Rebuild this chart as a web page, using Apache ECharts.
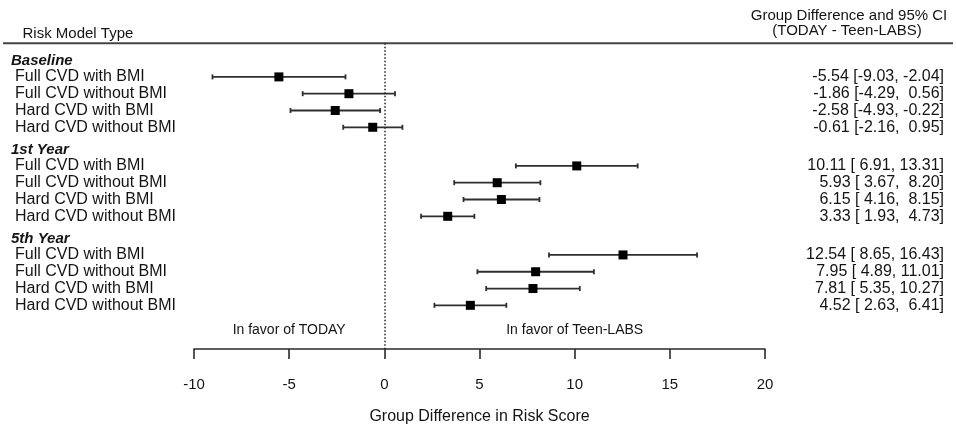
<!DOCTYPE html>
<html>
<head>
<meta charset="utf-8">
<script src="https://cdn.jsdelivr.net/npm/echarts@6/dist/echarts.min.js"></script>
<style>
html,body{margin:0;padding:0;background:#fff;}
#chart{width:956px;height:430px;}
</style>
</head>
<body>
<div id="chart"></div>
<script>
// ---- data ----
const groups = ['Baseline', '1st Year', '5th Year'];
const models = ['Full CVD with BMI', 'Full CVD without BMI', 'Hard CVD with BMI', 'Hard CVD without BMI'];
const estimates = [
  [-5.54, -1.86, -2.58, -0.61],
  [10.11, 5.93, 6.15, 3.33],
  [12.54, 7.95, 7.81, 4.52]
];
const lowerCI = [
  [-9.03, -4.29, -4.93, -2.16],
  [6.91, 3.67, 4.16, 1.93],
  [8.65, 4.89, 5.35, 2.63]
];
const upperCI = [
  [-2.04, 0.56, -0.22, 0.95],
  [13.31, 8.20, 8.15, 4.73],
  [16.43, 11.01, 10.27, 6.41]
];
const xTicks = [-10, -5, 0, 5, 10, 15, 20];
const favorLabels = ['In favor of TODAY', 'In favor of Teen-LABS'];

// ---- layout helpers ----
const FONT = "'Liberation Sans', Arial, Helvetica, sans-serif";
const TXT = '#141414';
const GROUP_STEP = 5.3;
const favorAnchors = [-5, 10];
const favorRow = 16.1;

function pad(v, w) { let s = v.toFixed(2); while (s.length < w) s = ' ' + s; return s; }

const whiskerData = [], pointData = [], rowData = [], headerData = [];
groups.forEach((g, gi) => {
  headerData.push([0, gi * GROUP_STEP + 0.05, gi]);
  models.forEach((m, mi) => {
    const y = gi * GROUP_STEP + 1 + mi;
    whiskerData.push([lowerCI[gi][mi], upperCI[gi][mi], y]);
    pointData.push([estimates[gi][mi], y]);
    rowData.push([0, y, gi, mi]);
  });
});
const favorData = favorLabels.map((t, i) => [favorAnchors[i], favorRow, i]);

const chart = echarts.init(document.getElementById('chart'), null, {renderer: 'canvas'});
chart.setOption({
  animation: false,
  backgroundColor: '#fff',
  grid: { left: 194, right: 191, top: 43.3, height: 309.4 },
  xAxis: {
    type: 'value', min: -10, max: 20, interval: 5,
    axisLine: { show: true, onZero: false, lineStyle: { color: '#2a2a2a', width: 1.6 } },
    axisTick: { show: true, length: 10, inside: false, lineStyle: { color: '#2a2a2a', width: 1.6 } },
    axisLabel: { fontSize: 15, color: TXT, fontFamily: FONT, margin: 28,
      customValues: xTicks },
    splitLine: { show: false },
    name: 'Group Difference in Risk Score', nameLocation: 'middle', nameGap: 60,
    nameTextStyle: { fontSize: 16, color: TXT, fontFamily: FONT }
  },
  yAxis: { type: 'value', min: -1, max: 17.2, inverse: true, show: false },
  graphic: [
    { type: 'line', shape: { x1: 3, y1: 43.3, x2: 953, y2: 43.3 }, style: { stroke: '#444', lineWidth: 2 } },
    { type: 'text', x: 22.5, y: 33.5, style: { text: 'Risk Model Type', fontSize: 15, fontFamily: FONT, fill: TXT, align: 'left', verticalAlign: 'middle' } },
    { type: 'text', x: 849, y: 16.2, style: { text: 'Group Difference and 95% CI', fontSize: 15, fontFamily: FONT, fill: TXT, align: 'center', verticalAlign: 'middle' } },
    { type: 'text', x: 847, y: 31.2, style: { text: '(TODAY - Teen-LABS)', fontSize: 15, fontFamily: FONT, fill: TXT, align: 'center', verticalAlign: 'middle' } }
  ],
  series: [
    {
      type: 'custom', name: 'ci', clip: false,
      data: whiskerData,
      encode: { x: [0, 1], y: 2 },
      renderItem: function (params, api) {
        const a = api.coord([api.value(0), api.value(2)]);
        const b = api.coord([api.value(1), api.value(2)]);
        const st = { stroke: '#2e2e2e', lineWidth: 1.8 };
        return { type: 'group', children: [
          { type: 'line', shape: { x1: a[0], y1: a[1], x2: b[0], y2: b[1] }, style: st },
          { type: 'line', shape: { x1: a[0], y1: a[1] - 2.5, x2: a[0], y2: a[1] + 2.5 }, style: st },
          { type: 'line', shape: { x1: b[0], y1: b[1] - 2.5, x2: b[0], y2: b[1] + 2.5 }, style: st }
        ]};
      },
      markLine: {
        silent: true, symbol: ['none', 'none'], label: { show: false },
        lineStyle: { type: [1.5, 2], color: '#222', width: 1.5 },
        data: [{ xAxis: 0 }]
      }
    },
    {
      type: 'scatter', name: 'est', data: pointData,
      symbol: 'rect', symbolSize: 9, itemStyle: { color: '#000', opacity: 1 }, z: 5
    },
    {
      type: 'custom', name: 'rows', clip: false, data: rowData,
      encode: { x: 0, y: 1 },
      renderItem: function (params, api) {
        const gi = api.value(2), mi = api.value(3);
        const p = api.coord([0, api.value(1)]);
        const txt = estimates[gi][mi].toFixed(2) + ' [' + pad(lowerCI[gi][mi], 5) + ', ' + pad(upperCI[gi][mi], 5) + ']';
        return { type: 'group', children: [
          { type: 'text', style: { text: models[mi], x: 15, y: p[1], fontSize: 16, fontFamily: FONT, fill: TXT, align: 'left', verticalAlign: 'middle' } },
          { type: 'text', style: { text: txt, x: 944, y: p[1], fontSize: 16, fontFamily: FONT, fill: TXT, align: 'right', verticalAlign: 'middle' } }
        ]};
      }
    },
    {
      type: 'custom', name: 'headers', clip: false, data: headerData,
      encode: { x: 0, y: 1 },
      renderItem: function (params, api) {
        const p = api.coord([0, api.value(1)]);
        return { type: 'text', style: { text: groups[api.value(2)], x: 11, y: p[1], fontSize: 15, fontWeight: 'bold', fontStyle: 'italic', fontFamily: FONT, fill: TXT, align: 'left', verticalAlign: 'middle' } };
      }
    },
    {
      type: 'custom', name: 'favor', clip: false, data: favorData,
      encode: { x: 0, y: 1 },
      renderItem: function (params, api) {
        const p = api.coord([api.value(0), api.value(1)]);
        return { type: 'text', style: { text: favorLabels[api.value(2)], x: p[0], y: p[1], fontSize: 14, fontFamily: FONT, fill: TXT, align: 'center', verticalAlign: 'middle' } };
      }
    }
  ]
});
</script>
</body>
</html>
